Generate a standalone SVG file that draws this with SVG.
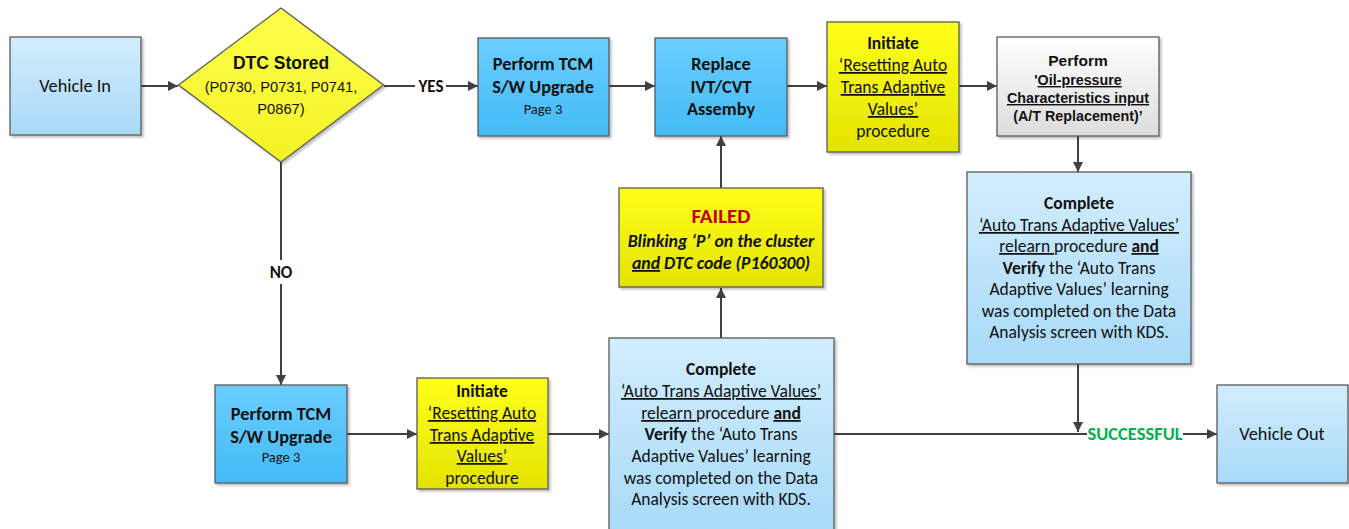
<svg xmlns="http://www.w3.org/2000/svg" width="1349" height="529" viewBox="0 0 1349 529">
<defs>
<linearGradient id="gLight" x1="0" y1="0" x2="0" y2="1"><stop offset="0" stop-color="#d2edfc"/><stop offset="1" stop-color="#a8daf8"/></linearGradient>
<linearGradient id="gBlue" x1="0" y1="0" x2="0" y2="1"><stop offset="0" stop-color="#6acdfe"/><stop offset="1" stop-color="#43bbf6"/></linearGradient>
<linearGradient id="gYellow" x1="0" y1="0" x2="0" y2="1"><stop offset="0" stop-color="#ffff1a"/><stop offset="1" stop-color="#e3e300"/></linearGradient>
<linearGradient id="gGray" x1="0" y1="0" x2="0" y2="1"><stop offset="0" stop-color="#ffffff"/><stop offset="1" stop-color="#dcdcdc"/></linearGradient>
<linearGradient id="gDia" x1="0" y1="0" x2="0" y2="1"><stop offset="0" stop-color="#ffff4d"/><stop offset="1" stop-color="#f2f224"/></linearGradient>
<marker id="arr" viewBox="0 0 10 10" refX="10" refY="5" markerWidth="11" markerHeight="10" markerUnits="userSpaceOnUse" orient="auto"><path d="M0,0 L10,5 L0,10 z" fill="#404040"/></marker>
<filter id="sh" x="-5%" y="-5%" width="115%" height="115%"><feDropShadow dx="2" dy="2" stdDeviation="1.2" flood-color="#000" flood-opacity="0.25"/></filter>
</defs>
<style>
.box{stroke:#5a5a5a;stroke-width:1.3;filter:url(#sh)}
.t{font-family:Carlito,Calibri,Lato,sans-serif;fill:#111;text-anchor:middle}
.a{font-family:"Liberation Sans",Arial,sans-serif;fill:#111;text-anchor:middle}
.b{font-weight:bold}
.u{text-decoration:underline}
.c{stroke:#404040;stroke-width:2;fill:none}
text.t.red{fill:#c00000}
text.t.green{fill:#00b050}
</style>

<g id="connectors">
<line class="c" x1="141" y1="86" x2="178" y2="86" marker-end="url(#arr)"/>
<line class="c" x1="384" y1="86" x2="415" y2="86"/>
<line class="c" x1="446" y1="86" x2="478" y2="86" marker-end="url(#arr)"/>
<line class="c" x1="609" y1="86" x2="655" y2="86" marker-end="url(#arr)"/>
<line class="c" x1="787" y1="86" x2="827" y2="86" marker-end="url(#arr)"/>
<line class="c" x1="959" y1="86" x2="997" y2="86" marker-end="url(#arr)"/>
<line class="c" x1="1078" y1="136" x2="1078" y2="172" marker-end="url(#arr)"/>
<line class="c" x1="1078" y1="364" x2="1078" y2="432" marker-end="url(#arr)"/>
<line class="c" x1="281" y1="162" x2="281" y2="260"/>
<line class="c" x1="281" y1="284" x2="281" y2="385" marker-end="url(#arr)"/>
<line class="c" x1="347" y1="434" x2="417" y2="434" marker-end="url(#arr)"/>
<line class="c" x1="548" y1="434" x2="609" y2="434" marker-end="url(#arr)"/>
<line class="c" x1="721" y1="338" x2="721" y2="288" marker-end="url(#arr)"/>
<line class="c" x1="721" y1="188" x2="721" y2="136" marker-end="url(#arr)"/>
<line class="c" x1="834" y1="434" x2="1087" y2="434"/>
<line class="c" x1="1183" y1="434" x2="1217" y2="434" marker-end="url(#arr)"/>
<text class="t b" x="431" y="92" font-size="17">YES</text>
<text class="t b" x="281" y="278" font-size="17">NO</text>
<text class="t b green" x="1135" y="440" font-size="18.5">SUCCESSFUL</text>
</g>

<g id="vehicle-in">
<rect class="box" x="10" y="37" width="131" height="98" fill="url(#gLight)"/>
<text class="t" x="75" y="92" font-size="18.3">Vehicle In</text>
</g>

<g id="dtc-stored">
<polygon class="box" points="281,8 383.5,85 281,162 178.5,85" fill="url(#gDia)"/>
<text class="a b" x="281" y="69" font-size="17.5">DTC Stored</text>
<text class="a" x="281" y="92" font-size="14.7">(P0730, P0731, P0741,</text>
<text class="a" x="281" y="114" font-size="14.7">P0867)</text>
</g>

<g id="tcm-upgrade-top">
<rect class="box" x="478" y="38" width="131" height="98" fill="url(#gBlue)"/>
<text class="t b" x="543" y="70" font-size="18.3">Perform TCM</text>
<text class="t b" x="543" y="93" font-size="18.3">S/W Upgrade</text>
<text class="t" x="543" y="114" font-size="14.5">Page 3</text>
</g>

<g id="replace-ivt">
<rect class="box" x="655" y="38" width="132" height="98" fill="url(#gBlue)"/>
<text class="t b" x="721" y="70" font-size="18.3">Replace</text>
<text class="t b" x="721" y="93" font-size="18.3">IVT/CVT</text>
<text class="t b" x="721" y="115" font-size="18.3">Assemby</text>
</g>

<g id="initiate-top">
<rect class="box" x="827" y="22" width="132" height="130" fill="url(#gYellow)"/>
<text class="t b" x="893" y="49" font-size="17.5">Initiate</text>
<text class="t u" x="893" y="71" font-size="17.5">‘Resetting Auto</text>
<text class="t u" x="893" y="93" font-size="17.5">Trans Adaptive</text>
<text class="t u" x="893" y="115" font-size="17.5">Values’</text>
<text class="t" x="893" y="137" font-size="17.5">procedure</text>
</g>

<g id="oil-pressure">
<rect class="box" x="997" y="37" width="162" height="99" fill="url(#gGray)"/>
<text class="a b" x="1078" y="66" font-size="15.5">Perform</text>
<text class="a b" x="1078" y="85" font-size="14.3"><tspan>'</tspan><tspan class="u">Oil-pressure</tspan></text>
<text class="a b u" x="1078" y="103" font-size="14.3">Characteristics input</text>
<text class="a b" x="1078" y="121" font-size="14.3">(A/T Replacement)’</text>
</g>

<g id="complete-right">
<rect class="box" x="967" y="172" width="224" height="192" fill="url(#gLight)"/>
<text class="t b" x="1079" y="209" font-size="17.5">Complete</text>
<text class="t u" x="1079" y="231" font-size="17.5">‘Auto Trans Adaptive Values’</text>
<text class="t" x="1079" y="252" font-size="17.5"><tspan class="u">relearn </tspan><tspan>procedure </tspan><tspan class="b u">and</tspan></text>
<text class="t" x="1079" y="274" font-size="17.5"><tspan class="b">Verify</tspan><tspan> the ‘Auto Trans</tspan></text>
<text class="t" x="1079" y="295" font-size="17.5">Adaptive Values’ learning</text>
<text class="t" x="1079" y="317" font-size="17.5">was completed on the Data</text>
<text class="t" x="1079" y="338" font-size="17.5">Analysis screen with KDS.</text>
</g>

<g id="failed">
<rect class="box" x="619" y="188" width="204" height="99" fill="url(#gYellow)"/>
<text class="t b red" x="721" y="223" font-size="21" fill="#c00000">FAILED</text>
<text class="t b" x="721" y="247" font-size="17.8" font-style="italic">Blinking ‘P’ on the cluster</text>
<text class="t b" x="721" y="269" font-size="17.8" font-style="italic"><tspan class="u">and</tspan><tspan> DTC code (P160300)</tspan></text>
</g>

<g id="tcm-upgrade-bottom">
<rect class="box" x="215" y="385" width="132" height="98" fill="url(#gBlue)"/>
<text class="t b" x="281" y="420" font-size="18.3">Perform TCM</text>
<text class="t b" x="281" y="443" font-size="18.3">S/W Upgrade</text>
<text class="t" x="281" y="462" font-size="14.5">Page 3</text>
</g>

<g id="initiate-bottom">
<rect class="box" x="417" y="378" width="131" height="111" fill="url(#gYellow)"/>
<text class="t b" x="482" y="397" font-size="17.5">Initiate</text>
<text class="t u" x="482" y="419" font-size="17.5">‘Resetting Auto</text>
<text class="t u" x="482" y="441" font-size="17.5">Trans Adaptive</text>
<text class="t u" x="482" y="462" font-size="17.5">Values’</text>
<text class="t" x="482" y="484" font-size="17.5">procedure</text>
</g>

<g id="complete-bottom">
<rect class="box" x="609" y="338" width="225" height="195" fill="url(#gLight)"/>
<text class="t b" x="721" y="375" font-size="17.5">Complete</text>
<text class="t u" x="721" y="397" font-size="17.5">‘Auto Trans Adaptive Values’</text>
<text class="t" x="721" y="419" font-size="17.5"><tspan class="u">relearn </tspan><tspan>procedure </tspan><tspan class="b u">and</tspan></text>
<text class="t" x="721" y="440" font-size="17.5"><tspan class="b">Verify</tspan><tspan> the ‘Auto Trans</tspan></text>
<text class="t" x="721" y="462" font-size="17.5">Adaptive Values’ learning</text>
<text class="t" x="721" y="484" font-size="17.5">was completed on the Data</text>
<text class="t" x="721" y="505" font-size="17.5">Analysis screen with KDS.</text>
</g>

<g id="vehicle-out">
<rect class="box" x="1217" y="385" width="131" height="98" fill="url(#gLight)"/>
<text class="t" x="1282" y="440" font-size="18.3">Vehicle Out</text>
</g>
</svg>
